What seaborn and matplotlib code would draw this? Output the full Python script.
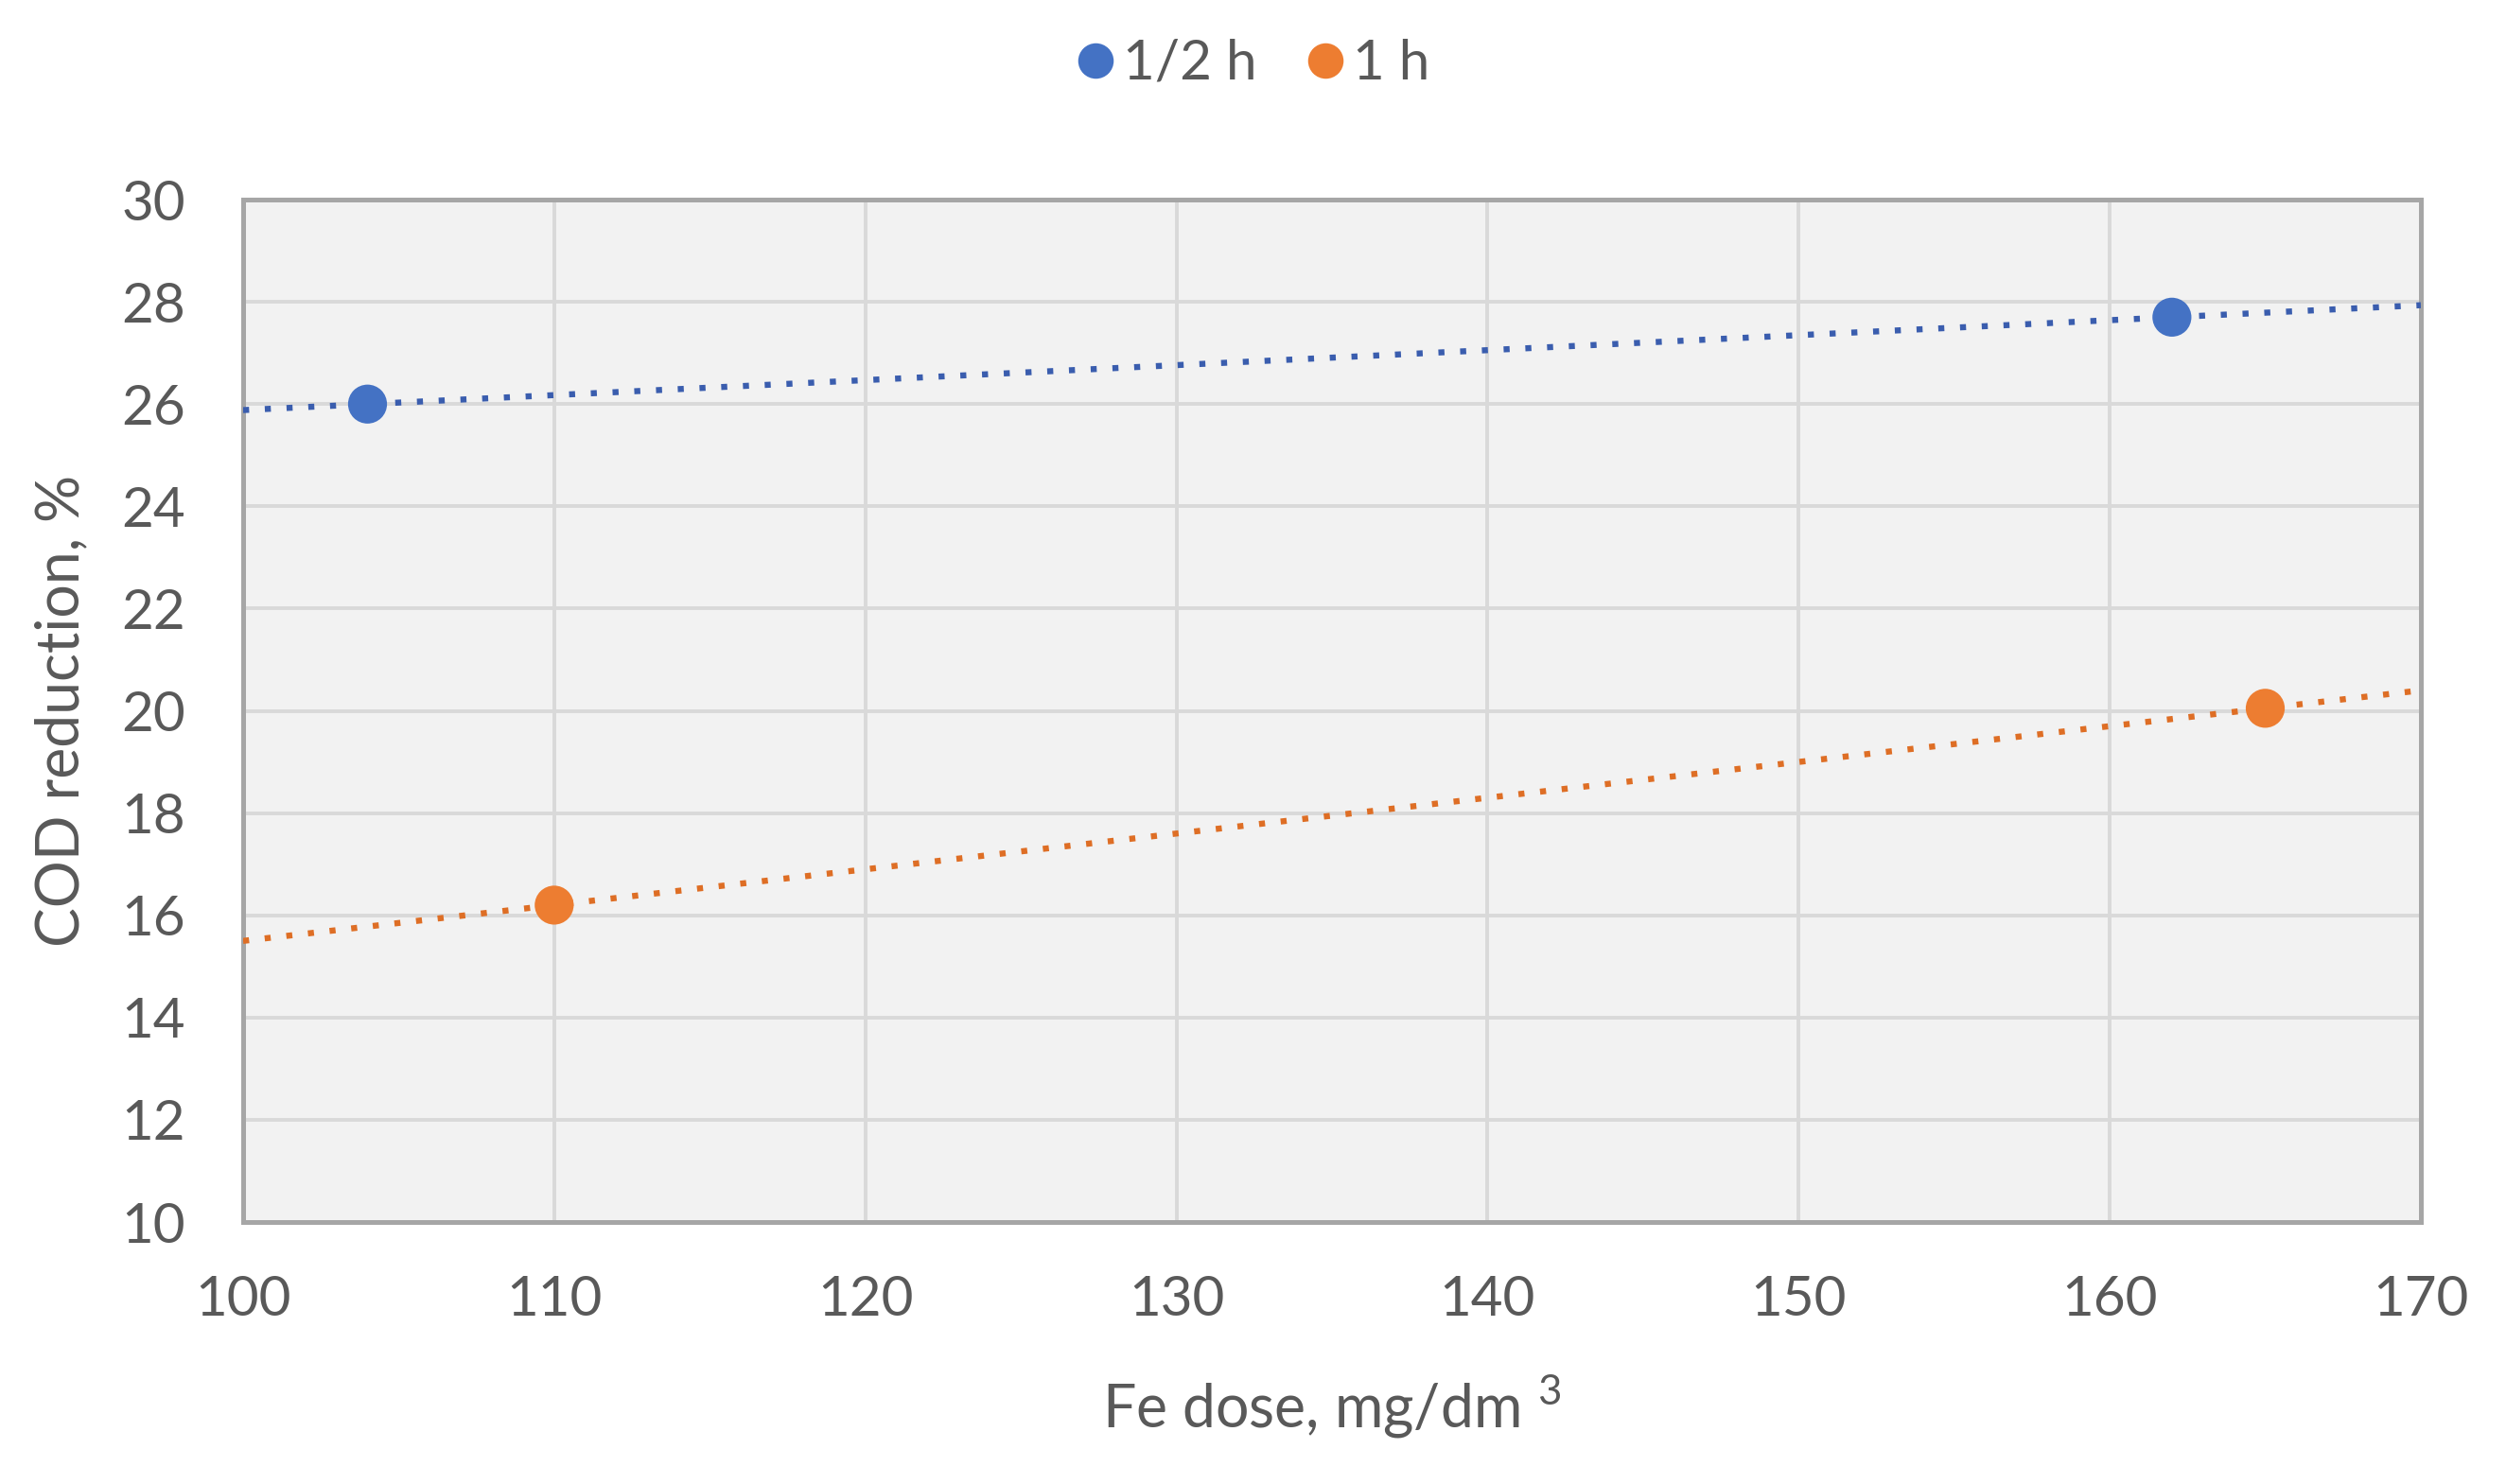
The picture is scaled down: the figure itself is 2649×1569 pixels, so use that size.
import numpy as np
import pandas as pd
import matplotlib
matplotlib.use("Agg")
import matplotlib.pyplot as plt
import seaborn as sns

# ==========================
# Données
# ==========================
series_names = ["1/2 h", "1 h"]
dose_half_h = [104, 162]
cod_half_h = [26.0, 27.7]
dose_1_h = [110, 165]
cod_1_h = [16.2, 20.05]

colors = ["#4472C4", "#ED7D31"]
line_colors = ["#3A5DAE", "#DE6E25"]
x_ticks = [100, 110, 120, 130, 140, 150, 160, 170]
y_ticks = [10, 12, 14, 16, 18, 20, 22, 24, 26, 28, 30]

data = pd.DataFrame({
    "dose": dose_half_h + dose_1_h,
    "cod": cod_half_h + cod_1_h,
    "serie": [series_names[0]] * len(dose_half_h) + [series_names[1]] * len(dose_1_h),
})

# ==========================
# Style
# ==========================
sns.set_style("whitegrid", {
    "axes.facecolor": "#F2F2F2",
    "grid.color": "#D9D9D9",
    "axes.edgecolor": "#A6A6A6",
})
plt.rcParams["font.family"] = ["Lato", "DejaVu Sans"]
plt.rcParams["mathtext.fontset"] = "custom"
plt.rcParams["mathtext.rm"] = "Lato"
plt.rcParams["mathtext.default"] = "rm"
text_color = "#595959"

fig = plt.figure(figsize=(13.245, 7.845), dpi=200)
ax = fig.add_axes([0.097, 0.1765, 0.869, 0.689])
ax.set_xlim(100, 170)
ax.set_ylim(10, 30)

# Courbes de tendance (linéaires, pointillées) puis points
for name, col in zip(series_names, line_colors):
    sub = data[data["serie"] == name]
    sns.regplot(x="dose", y="cod", data=sub, ax=ax, ci=None, truncate=False,
                scatter=False, color=col,
                line_kws=dict(linestyle=(0, (1, 2.6)), linewidth=2.3, zorder=3))

sns.scatterplot(x="dose", y="cod", hue="serie", data=data, ax=ax,
                palette=colors, s=220, edgecolor="none", zorder=4, legend=False)

ax.set_xlim(100, 170)
ax.set_ylim(10, 30)
ax.set_xticks(x_ticks)
ax.set_yticks(y_ticks)
ax.grid(True, linewidth=1.4, color="#D9D9D9")
ax.tick_params(length=0, labelsize=21, colors=text_color)
ax.tick_params(axis="x", pad=20)
ax.tick_params(axis="y", pad=22)
for s in ax.spines.values():
    s.set_visible(True)
    s.set_color("#A6A6A6")
    s.set_linewidth(1.8)

ax.set_xlabel(r"Fe dose, mg/dm $^{3}$", fontsize=22.5, color=text_color, labelpad=18)
ax.set_ylabel("COD reduction, %", fontsize=22.5, color=text_color, labelpad=12)

# Légende en haut
handles = [plt.Line2D([], [], marker="o", linestyle="none", markersize=13.5,
                      markerfacecolor=c, markeredgecolor="none") for c in colors]
fig.legend(handles, series_names, loc="center", bbox_to_anchor=(0.5, 0.957),
           ncol=2, frameon=False, fontsize=21, handletextpad=0.15,
           handlelength=0.7, columnspacing=0.9, labelcolor=text_color)

fig.savefig("out.png", dpi=200, facecolor="white")
